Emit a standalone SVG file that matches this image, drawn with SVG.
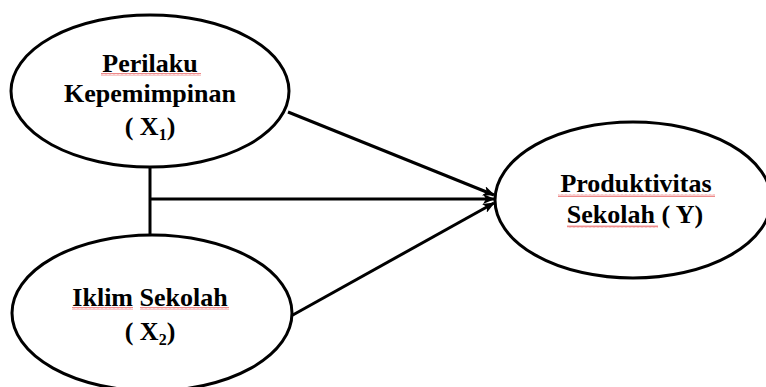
<svg xmlns="http://www.w3.org/2000/svg" width="766" height="387" viewBox="0 0 766 387">
<style>
.node{fill:#fff;stroke:#000;stroke-width:3}
.lbl{font-family:"Liberation Serif","Times New Roman",serif;font-weight:bold;font-size:26px;fill:#000;text-anchor:middle}
.sub{font-size:16px}
.conn{fill:none;stroke:#000;stroke-width:3}
.sq{fill:url(#squig)}
</style>
<defs>
<marker id="arr" viewBox="0 0 12 10" refX="11" refY="5" markerWidth="12" markerHeight="10" markerUnits="userSpaceOnUse" orient="auto">
<path d="M0,0 L12,5 L0,10 L3,5 Z" fill="#000"/>
</marker>
<pattern id="squig" width="4" height="3" patternUnits="userSpaceOnUse">
<polyline points="0,2.5 1,0.5 2,2.5 3,0.5 4,2.5" fill="none" stroke="#e23a3a" stroke-width="0.6"/>
</pattern>
</defs>
<rect width="766" height="387" fill="#fff"/>
<g id="connectors">
<line class="conn" x1="150" y1="167" x2="150" y2="236"/>
<line class="conn" x1="150" y1="199" x2="494" y2="199" marker-end="url(#arr)"/>
<line class="conn" x1="288" y1="112" x2="494" y2="195" marker-end="url(#arr)"/>
<line class="conn" x1="291" y1="316" x2="494" y2="203" marker-end="url(#arr)"/>
</g>
<g id="x1">
<ellipse class="node" cx="150" cy="91" rx="139" ry="76"/>
<text class="lbl" x="150" y="72">Perilaku</text>
<rect class="sq" x="101" y="73" width="100" height="3"/>
<text class="lbl" x="150" y="102">Kepemimpinan</text>
<text class="lbl" x="150" y="135">( X<tspan class="sub" dy="5">1</tspan><tspan dy="-5">)</tspan></text>
</g>
<g id="x2">
<ellipse class="node" cx="152" cy="313" rx="140" ry="78"/>
<text class="lbl" x="150" y="306">Iklim Sekolah</text>
<rect class="sq" x="72" y="307" width="61" height="3"/>
<rect class="sq" x="140" y="307" width="89" height="3"/>
<text class="lbl" x="150" y="340">( X<tspan class="sub" dy="5">2</tspan><tspan dy="-5">)</tspan></text>
</g>
<g id="y">
<ellipse class="node" cx="633" cy="200" rx="138" ry="78"/>
<text class="lbl" x="636" y="192">Produktivitas</text>
<rect class="sq" x="558" y="194" width="157" height="3"/>
<text class="lbl" x="635" y="223">Sekolah ( Y)</text>
<rect class="sq" x="567" y="225" width="91" height="3"/>
</g>
</svg>
